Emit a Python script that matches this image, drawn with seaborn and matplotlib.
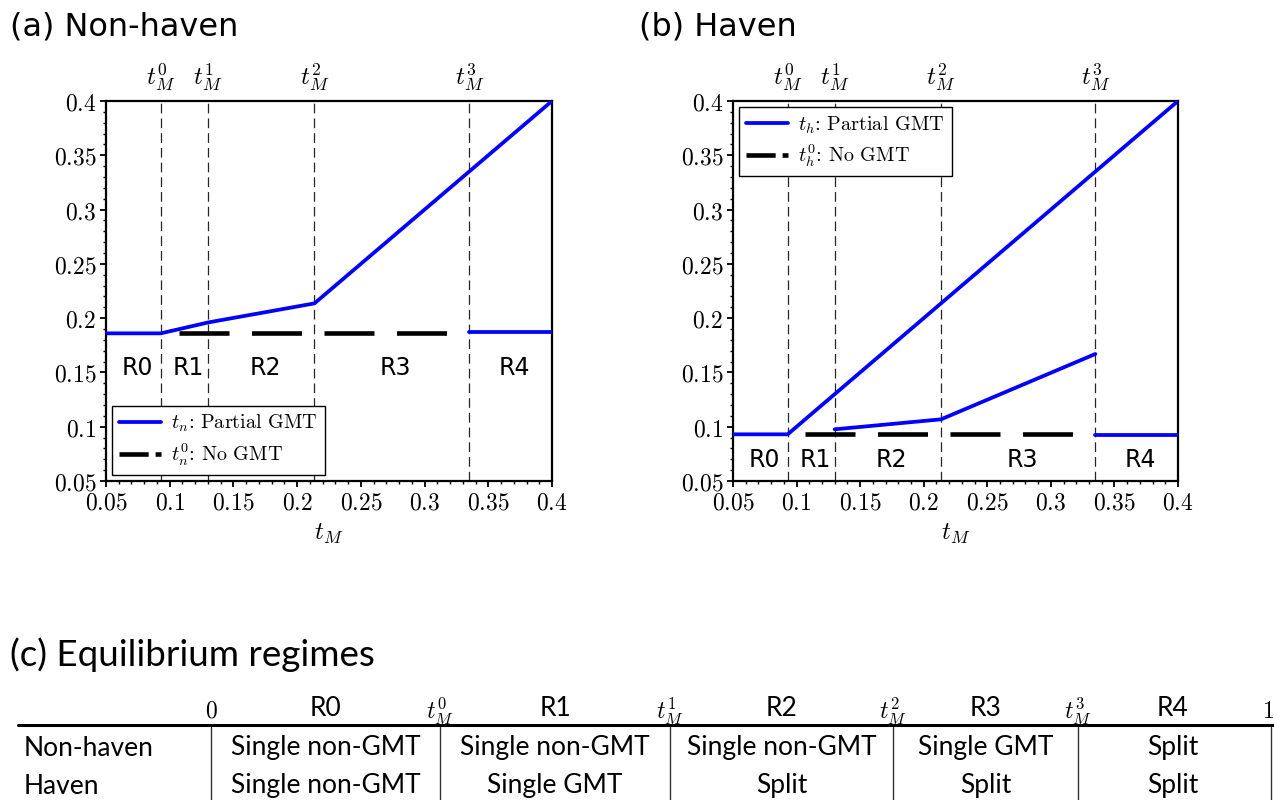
import numpy as np
import pandas as pd
import matplotlib
matplotlib.use("Agg")
import matplotlib.pyplot as plt
from matplotlib.lines import Line2D
from matplotlib.ticker import MultipleLocator, FuncFormatter
import seaborn as sns

# regime thresholds t_M^0 .. t_M^3
T_BOUNDS = [0.093, 0.130, 0.2136, 0.335]
BOUND_LABELS = [r"$t_M^0$", r"$t_M^1$", r"$t_M^2$", r"$t_M^3$"]
REGIMES = ["R0", "R1", "R2", "R3", "R4"]

# (a) non-haven tax rate
NH_TM = [0.05, 0.093, 0.130, 0.2136, 0.4]
NH_PARTIAL = [0.186, 0.186, 0.196, 0.2136, 0.4]
NH_SPLIT_TM = [0.335, 0.4]
NH_SPLIT = [0.187, 0.187]
NH_NOGMT_TM = [0.107, 0.335]
NH_NOGMT = [0.186, 0.186]

# (b) haven tax rate
H_TM = [0.05, 0.093, 0.4]
H_PARTIAL = [0.093, 0.093, 0.4]
H_LOW_TM = [0.130, 0.2136, 0.335]
H_LOW = [0.0976, 0.1068, 0.167]
H_SPLIT_TM = [0.335, 0.4]
H_SPLIT = [0.092, 0.092]
H_NOGMT_TM = [0.107, 0.335]
H_NOGMT = [0.093, 0.093]

# (c) equilibrium regimes table
TABLE_BOUNDS = [r"$0$", r"$t_M^0$", r"$t_M^1$", r"$t_M^2$", r"$t_M^3$", r"$1$"]
ROW_LABELS = ["Non-haven", "Haven"]
NH_EQ = ["Single non-GMT", "Single non-GMT", "Single non-GMT", "Single GMT", "Split"]
H_EQ = ["Single non-GMT", "Single GMT", "Split", "Split", "Split"]

sns.set_style("ticks", {"axes.edgecolor": "black", "xtick.color": "black",
                        "ytick.color": "black", "text.color": "black",
                        "axes.labelcolor": "black"})
plt.rcParams["font.family"] = ["DejaVu Sans"]
plt.rcParams["mathtext.fontset"] = "cm"
plt.rcParams["lines.scale_dashes"] = False

W, H = 1274, 800
BLUE = "#0000ff"
fig = plt.figure(figsize=(W / 100, H / 100), dpi=100)

bg = fig.add_axes([0, 0, 1, 1], zorder=-1)
bg.set_xlim(0, W)
bg.set_ylim(H, 0)
bg.axis("off")


def px_axes(l, t, r, b):
    return fig.add_axes([l / W, 1 - b / H, (r - l) / W, (b - t) / H])


def segments(parts):
    frames = [pd.DataFrame({"tM": x, "rate": y, "seg": i}) for i, (x, y) in enumerate(parts)]
    return pd.concat(frames, ignore_index=True)


def draw_panel(ax, blue_parts, nogmt, label_y, legend_labels, legend_loc):
    ax.set_xlim(0.05, 0.4)
    ax.set_ylim(0.05, 0.4)

    for t in T_BOUNDS:
        ax.axvline(t, color="0.15", lw=0.9, linestyle=(0, (7, 3.6)), zorder=1)

    sns.lineplot(x=nogmt[0], y=nogmt[1], color="black", lw=3.3,
                 linestyle=(0, (36, 16.2)), ax=ax, zorder=2)
    sns.lineplot(data=segments(blue_parts), x="tM", y="rate", units="seg",
                 estimator=None, sort=False, color=BLUE, lw=2.7, ax=ax, zorder=3)

    edges = [0.05] + T_BOUNDS + [0.4]
    for i, name in enumerate(REGIMES):
        ax.text((edges[i] + edges[i + 1]) / 2 + 0.003, label_y, name,
                ha="center", va="center", fontsize=17)

    ax.xaxis.set_major_locator(MultipleLocator(0.05))
    ax.yaxis.set_major_locator(MultipleLocator(0.05))
    ax.xaxis.set_minor_locator(MultipleLocator(0.01))
    ax.yaxis.set_minor_locator(MultipleLocator(0.01))
    fmt = FuncFormatter(lambda v, p: f"${v:g}$")
    ax.xaxis.set_major_formatter(fmt)
    ax.yaxis.set_major_formatter(fmt)
    ax.tick_params(which="major", length=4, width=1.3, labelsize=17, pad=3)
    ax.tick_params(which="minor", length=2.5, width=1.0)
    for s in ax.spines.values():
        s.set_linewidth(1.6)
    ax.set_xlabel(r"$t_M$", fontsize=18, labelpad=5)
    ax.set_ylabel("")

    top = ax.secondary_xaxis("top")
    top.set_xticks(T_BOUNDS, labels=BOUND_LABELS)
    top.tick_params(length=0, labelsize=18, pad=5)
    top.spines["top"].set_visible(False)

    handles = [Line2D([], [], color=BLUE, lw=2.7),
               Line2D([], [], color="black", lw=3.3, linestyle=(0, (21, 5)))]
    leg = ax.legend(handles, legend_labels, loc=legend_loc,
                    frameon=True, fancybox=False, framealpha=1, edgecolor="black",
                    handlelength=2.1, handletextpad=0.5, borderpad=0.35,
                    labelspacing=0.35, borderaxespad=0.3,
                    prop={"family": "cmr10", "size": 14.5})
    leg.get_frame().set_linewidth(1.0)


ax_a = px_axes(106, 101, 552, 481)
draw_panel(ax_a,
           [(NH_TM, NH_PARTIAL), (NH_SPLIT_TM, NH_SPLIT)],
           (NH_NOGMT_TM, NH_NOGMT), 0.154,
           [r"$t_n$: Partial GMT", r"$t_n^0$: No GMT"], "lower left")

ax_b = px_axes(733, 101, 1178, 481)
draw_panel(ax_b,
           [(H_TM, H_PARTIAL), (H_LOW_TM, H_LOW), (H_SPLIT_TM, H_SPLIT)],
           (H_NOGMT_TM, H_NOGMT), 0.069,
           [r"$t_h$: Partial GMT", r"$t_h^0$: No GMT"], "upper left")

# panel titles
bg.text(10, 27, "(a) Non-haven", fontsize=23, ha="left", va="center")
bg.text(639, 27, "(b) Haven", fontsize=23, ha="left", va="center")
bg.text(10, 655, "(c) Equilibrium regimes", fontsize=26.5, family="Lato",
        ha="left", va="center")

# table (c)
bound_x = [211, 440, 670, 893, 1078, 1268]
line_x = [211, 440, 670, 893, 1078, 1271]
mid_x = [(a + b) / 2 for a, b in zip(bound_x[:-1], bound_x[1:])]
for x, lab in zip(bound_x, TABLE_BOUNDS):
    bg.text(x, 711, lab, fontsize=17, ha="center", va="center")
for x, lab in zip(mid_x, REGIMES):
    bg.text(x, 708, lab, fontsize=19, family="Lato", ha="center", va="center")
bg.plot([18, W], [725, 725], color="black", lw=2.2)
for x in line_x:
    bg.plot([x, x], [727, H], color="0.2", lw=1.0)
for y, row, cells in zip([748, 786], ROW_LABELS, [NH_EQ, H_EQ]):
    bg.text(24, y, row, fontsize=19, family="Lato", ha="left", va="center")
    for x, txt in zip(mid_x, cells):
        bg.text(x, y, txt, fontsize=19, family="Lato", ha="center", va="center")

fig.savefig("out.png", dpi=100)
plt.close(fig)
